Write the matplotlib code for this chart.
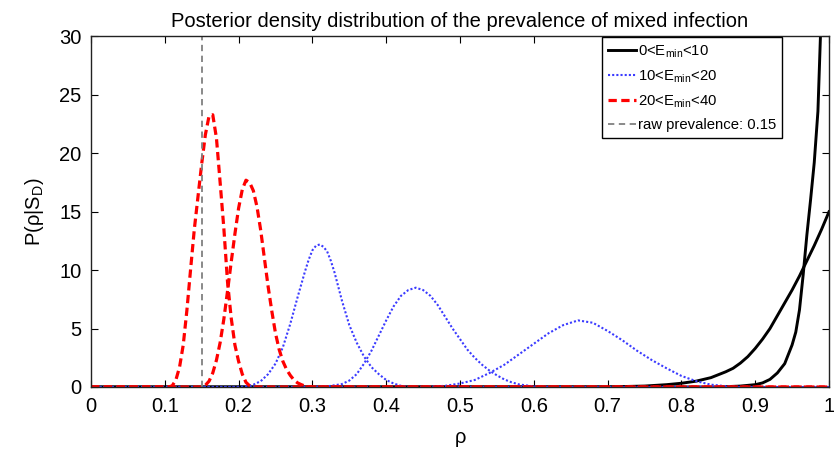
import matplotlib
matplotlib.use("Agg")
import matplotlib.pyplot as plt

# black solid: 0<E_min<10 (two curves)
black1_x = [0, 0.85, 0.88, 0.90, 0.91, 0.92, 0.93, 0.94, 0.95, 0.955, 0.96, 0.965, 0.97, 0.975, 0.98, 0.985, 0.99, 1.0]
black1_y = [0, 0, 0.08, 0.2, 0.35, 0.65, 1.2, 2.0, 3.6, 4.7, 6.6, 9.6, 13.0, 16.0, 19.2, 23.6, 33.0, 50.0]
black2_x = [0, 0.70, 0.75, 0.78, 0.80, 0.82, 0.84, 0.85, 0.86, 0.87, 0.88, 0.89, 0.90, 0.91, 0.92,
            0.93, 0.94, 0.95, 0.96, 0.97, 0.98, 0.99, 1.0]
black2_y = [0, 0.01, 0.08, 0.2, 0.32, 0.5, 0.8, 1.05, 1.3, 1.6, 2.05, 2.6, 3.3, 4.1, 5.0,
            6.1, 7.2, 8.3, 9.5, 10.8, 12.1, 13.5, 15.0]

# blue dotted: 10<E_min<20 (three curves)
blue1_x = [0, 0.20, 0.21, 0.22, 0.23, 0.24, 0.25, 0.26, 0.27, 0.28, 0.29, 0.295, 0.30, 0.305, 0.31,
           0.315, 0.32, 0.325, 0.33, 0.34, 0.35, 0.36, 0.37, 0.38, 0.39, 0.40, 0.41, 0.42, 0.43, 1.0]
blue1_y = [0, 0, 0.05, 0.2, 0.5, 1.1, 2.0, 3.4, 5.4, 7.7, 9.9, 10.9, 11.7, 12.1, 12.2,
           12.0, 11.6, 10.8, 9.8, 7.4, 5.3, 3.8, 2.6, 1.7, 1.1, 0.6, 0.3, 0.1, 0, 0]
blue2_x = [0, 0.30, 0.32, 0.34, 0.35, 0.36, 0.37, 0.38, 0.39, 0.40, 0.41, 0.42, 0.43, 0.44, 0.45,
           0.46, 0.47, 0.48, 0.49, 0.50, 0.51, 0.52, 0.53, 0.54, 0.55, 0.56, 0.57, 0.58, 0.60, 0.62, 1.0]
blue2_y = [0, 0, 0.05, 0.25, 0.55, 1.1, 2.0, 3.1, 4.4, 5.7, 6.9, 7.8, 8.3, 8.5, 8.3,
           7.8, 7.0, 6.0, 5.0, 4.1, 3.2, 2.5, 1.9, 1.4, 1.0, 0.65, 0.4, 0.22, 0.05, 0, 0]
blue3_x = [0, 0.45, 0.48, 0.50, 0.52, 0.54, 0.56, 0.58, 0.60, 0.62, 0.64, 0.66, 0.68, 0.70,
           0.72, 0.74, 0.76, 0.78, 0.80, 0.82, 0.84, 0.86, 0.88, 1.0]
blue3_y = [0, 0, 0.1, 0.3, 0.6, 1.2, 1.9, 2.8, 3.7, 4.6, 5.3, 5.7, 5.5, 4.8,
           4.0, 3.1, 2.3, 1.6, 0.95, 0.5, 0.2, 0.07, 0, 0]

# red dashed: 20<E_min<40 (two curves)
red1_x = [0, 0.105, 0.110, 0.115, 0.120, 0.125, 0.130, 0.135, 0.140, 0.145, 0.150, 0.155, 0.160,
          0.165, 0.170, 0.175, 0.180, 0.185, 0.190, 0.195, 0.200, 0.205, 0.210, 0.215, 0.220, 1.0]
red1_y = [0, 0, 0.1, 0.6, 1.7, 3.6, 6.6, 10.1, 13.5, 16.3, 19.1, 21.6, 23.2,
          23.3, 21.3, 17.5, 13.6, 9.0, 5.9, 3.6, 2.2, 1.1, 0.4, 0.1, 0, 0]
red2_x = [0, 0.150, 0.155, 0.160, 0.165, 0.170, 0.175, 0.180, 0.185, 0.190, 0.195, 0.200, 0.205,
          0.210, 0.215, 0.220, 0.225, 0.230, 0.235, 0.240, 0.245, 0.250, 0.255, 0.260, 0.265,
          0.270, 0.275, 0.280, 0.285, 0.290, 0.295, 0.300, 1.0]
red2_y = [0, 0, 0.15, 0.5, 1.2, 2.3, 3.8, 5.8, 8.2, 10.7, 13.1, 15.3, 16.9,
          17.7, 17.5, 16.8, 15.4, 13.4, 11.0, 8.6, 6.5, 4.6, 3.2, 2.2, 1.5,
          1.0, 0.6, 0.35, 0.2, 0.08, 0.02, 0, 0]

raw_prevalence = 0.15

legend_labels = ['0<E$_{\\mathrm{min}}$<10', '10<E$_{\\mathrm{min}}$<20',
                 '20<E$_{\\mathrm{min}}$<40', 'raw prevalence: 0.15']
x_tick_labels = ['0', '0.1', '0.2', '0.3', '0.4', '0.5', '0.6', '0.7', '0.8', '0.9', '1']

plt.rcParams['font.family'] = ['Liberation Sans', 'DejaVu Sans']
plt.rcParams['mathtext.fontset'] = 'custom'
plt.rcParams['mathtext.rm'] = 'Liberation Sans'

fig = plt.figure(figsize=(8.34, 4.5), dpi=100)
ax = fig.add_axes([0.1091, 0.14, 0.8849, 0.7789])

blue = '#3b3bff'
l1, = ax.plot(black1_x, black1_y, color='k', lw=2.1)
ax.plot(black2_x, black2_y, color='k', lw=2.1)
l2, = ax.plot(blue1_x, blue1_y, color=blue, lw=1.5, ls=(0, (1, 1)))
ax.plot(blue2_x, blue2_y, color=blue, lw=1.5, ls=(0, (1, 1)))
ax.plot(blue3_x, blue3_y, color=blue, lw=1.5, ls=(0, (1, 1)))
l3, = ax.plot(red1_x, red1_y, color='#ff0000', lw=2.3, ls=(0, (2.6, 1.4)))
ax.plot(red2_x, red2_y, color='#ff0000', lw=2.3, ls=(0, (2.6, 1.4)))
l4 = ax.axvline(raw_prevalence, color='#808080', lw=1.3, ls=(0, (3.5, 2.5)))

ax.set_xlim(0, 1)
ax.set_ylim(0, 30)
ax.set_xticks([i / 10 for i in range(11)])
ax.set_xticklabels(x_tick_labels)
ax.set_yticks(range(0, 31, 5))
ax.tick_params(direction='in', top=True, right=True, length=5, width=0.8,
               labelsize=14.5, pad=7)
for s in ax.spines.values():
    s.set_linewidth(1.0)
    s.set_color('#222222')

ax.set_title('Posterior density distribution of the prevalence of mixed infection',
             fontsize=14.5, pad=7)
ax.set_xlabel('\u03c1', fontsize=14.5, labelpad=9)
ax.set_ylabel('P(\u03c1|S$_\\mathrm{D}$)', fontsize=14.5, labelpad=9)

leg = ax.legend([l1, l2, l3, l4], legend_labels, loc='upper right',
                bbox_to_anchor=(0.9366, 0.998), borderaxespad=0, fontsize=10.7,
                fancybox=False, framealpha=1, edgecolor='k', handlelength=1.9,
                handletextpad=0.15, labelspacing=0.55, borderpad=0.4)
leg.get_frame().set_linewidth(1.0)

plt.savefig('out.png', dpi=100)
